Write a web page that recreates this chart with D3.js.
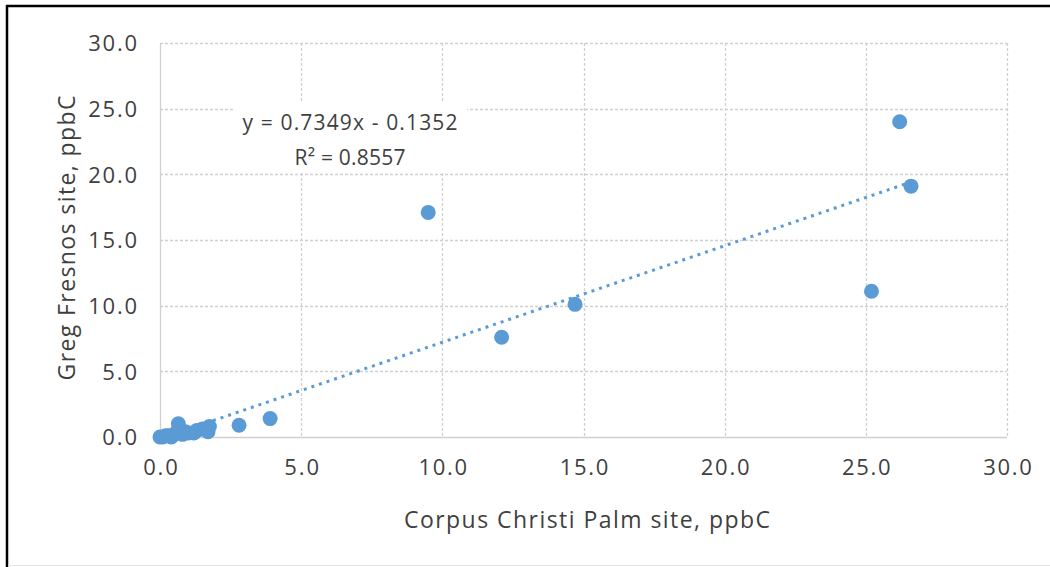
<!DOCTYPE html>
<html>
<head>
<meta charset="utf-8">
<script src="https://cdn.jsdelivr.net/npm/d3@7"></script>
<style>
  body { margin: 0; background: #fff; }
  svg text { font-family: "Open Sans", "Noto Sans", sans-serif; fill: #3f3f3f; }
</style>
</head>
<body>
<svg id="chart" width="1050" height="567"></svg>
<script>
// Corpus Christi Palm (x) vs Greg Fresnos (y), ppbC
const xValues = [0.0, 0.1, 0.2, 0.3, 0.4, 0.5, 0.6, 0.65, 0.8, 0.9, 1.0, 1.2, 1.3, 1.5, 1.7, 1.75, 2.8, 3.9, 9.5, 12.1, 14.7, 25.2, 26.2, 26.6];
const yValues = [0.0, 0.0, 0.1, 0.1, 0.0, 0.2, 0.3, 1.0, 0.2, 0.4, 0.3, 0.3, 0.5, 0.6, 0.4, 0.8, 0.9, 1.4, 17.1, 7.6, 10.1, 11.1, 24.0, 19.1];
const tickValues = [0, 5, 10, 15, 20, 25, 30];
const slope = 0.7349;
const intercept = -0.1352;
const equationLines = ["y = 0.7349x - 0.1352", "R² = 0.8557"];
const xTitle = "Corpus Christi Palm site, ppbC";
const yTitle = "Greg Fresnos site, ppbC";

const svg = d3.select("#chart");
const plotL = 160, plotR = 1007, plotT = 43, plotB = 437;

const x = d3.scaleLinear().domain([0, 30]).range([plotL, plotR]);
const y = d3.scaleLinear().domain([0, 30]).range([plotB, plotT]);

// frame
svg.append("line").attr("x1", 6).attr("x2", 1050).attr("y1", 6).attr("y2", 6)
  .style("stroke", "#000").style("stroke-width", 2.5);
svg.append("line").attr("x1", 7).attr("x2", 7).attr("y1", 5).attr("y2", 567)
  .style("stroke", "#000").style("stroke-width", 2.5);
svg.append("line").attr("x1", 8).attr("x2", 1050).attr("y1", 565.5).attr("y2", 565.5)
  .style("stroke", "#e4e4e4").style("stroke-width", 1);

// grid
const grid = svg.append("g");
tickValues.forEach(t => {
  grid.append("line")
    .attr("x1", plotL).attr("x2", plotR)
    .attr("y1", Math.round(y(t)) + 0.5).attr("y2", Math.round(y(t)) + 0.5)
    .style("stroke", "#d0d0d0").style("stroke-width", 1.3)
    .style("stroke-dasharray", t === 0 ? null : "3,2");
  grid.append("line")
    .attr("y1", plotT).attr("y2", plotB)
    .attr("x1", Math.round(x(t)) + 0.5).attr("x2", Math.round(x(t)) + 0.5)
    .style("stroke", "#d0d0d0").style("stroke-width", 1.3)
    .style("stroke-dasharray", t === 0 ? null : "3,2");
});

// axes (labels only)
const fmt = d3.format(".1f");
const xAxis = svg.append("g").attr("transform", `translate(0,${plotB})`)
  .call(d3.axisBottom(x).tickValues(tickValues).tickFormat(fmt).tickSize(0).tickPadding(22));
const yAxis = svg.append("g").attr("transform", `translate(${plotL},0)`)
  .call(d3.axisLeft(y).tickValues(tickValues).tickFormat(fmt).tickSize(0).tickPadding(23));
[xAxis, yAxis].forEach(a => {
  a.select(".domain").remove();
  a.selectAll("text").style("font-size", "22px").style("fill", "#3f3f3f")
    .style("font-family", '"Open Sans", sans-serif')
    .attr("textLength", function () { return this.getComputedTextLength() * 1.12; })
    .attr("lengthAdjust", "spacing");
});
yAxis.selectAll("text").attr("dy", "0.35em");
xAxis.selectAll("text").attr("dy", "0.35em").attr("y", 30);

// trendline
const xExt = d3.extent(xValues);
svg.append("line")
  .attr("x1", x(xExt[0])).attr("y1", y(slope * xExt[0] + intercept))
  .attr("x2", x(xExt[1])).attr("y2", y(slope * xExt[1] + intercept))
  .style("stroke", "#5b9bd5").style("stroke-width", 3)
  .style("stroke-dasharray", "3,5");

// points
svg.selectAll("circle.pt")
  .data(xValues.map((v, i) => [v, yValues[i]]))
  .enter().append("circle")
  .attr("class", "pt")
  .attr("cx", d => x(d[0]))
  .attr("cy", d => y(d[1]))
  .attr("r", 7.5)
  .style("fill", "#5b9bd5");

// equation label
const eqWidths = [215, 111];
const eq = svg.append("g").attr("transform", "translate(350,0)");
eq.append("rect").attr("x", -117).attr("y", 101).attr("width", 234).attr("height", 72)
  .style("fill", "#fff");
eq.selectAll("text").data(equationLines).enter().append("text")
  .attr("x", 0).attr("y", (d, i) => 130 + i * 35)
  .attr("text-anchor", "middle")
  .attr("textLength", (d, i) => eqWidths[i])
  .attr("lengthAdjust", "spacing")
  .style("font-size", "21px")
  .text(d => d);

// titles
svg.append("text").attr("x", 587).attr("y", 528)
  .attr("text-anchor", "middle").attr("textLength", 366).attr("lengthAdjust", "spacing")
  .style("font-size", "23px").text(xTitle);
svg.append("text").attr("transform", `translate(75,238) rotate(-90)`)
  .attr("text-anchor", "middle").attr("textLength", 285).attr("lengthAdjust", "spacing")
  .style("font-size", "23px").text(yTitle);
</script>
</body>
</html>
